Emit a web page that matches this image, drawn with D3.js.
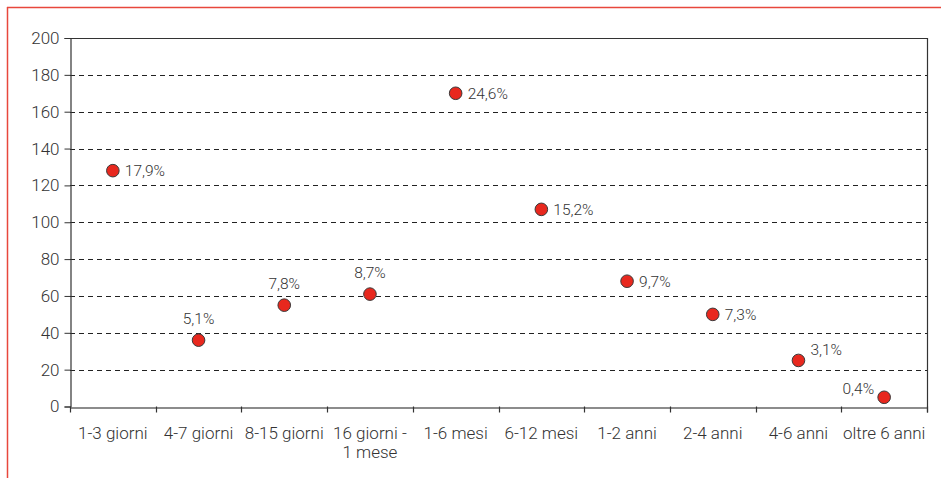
<!DOCTYPE html>
<html>
<head>
<meta charset="utf-8">
<script src="https://cdn.jsdelivr.net/npm/d3@7"></script>
<style>
  html, body { margin: 0; padding: 0; background: #fff; }
  svg { display: block; font-family: Roboto, "Noto Sans", sans-serif; font-weight: 300; }
</style>
</head>
<body>
<svg id="chart" width="941" height="478"></svg>
<script>
// Duration classes (x axis)
const categories = ["1-3 giorni", "4-7 giorni", "8-15 giorni", "16 giorni -\n1 mese", "1-6 mesi",
                    "6-12 mesi", "1-2 anni", "2-4 anni", "4-6 anni", "oltre 6 anni"];
// Counts per class
const counts = [128, 36, 55, 61, 170, 107, 68, 50, 25, 5];
// Share of total shown next to each point
const shares = ["17,9%", "5,1%", "7,8%", "8,7%", "24,6%", "15,2%", "9,7%", "7,3%", "3,1%", "0,4%"];
// Where each share label sits relative to its point
const labelSide = ["right", "top", "top", "top", "right", "right", "right", "right", "topright", "topleft"];
// Y axis ticks
const yTicks = [0, 20, 40, 60, 80, 100, 120, 140, 160, 180, 200];

const svg = d3.select("#chart");
const W = 941, H = 478;
const m = { left: 70, right: 927, top: 38, bottom: 406.5 };
const ink = "#333";
const font = "Roboto, 'Noto Sans', sans-serif";

// Red outer frame (top and left edges)
svg.append("line").attr("x1", 7).attr("x2", W).attr("y1", 7.5).attr("y2", 7.5)
  .attr("stroke", "#e8473c").attr("stroke-width", 1.5);
svg.append("line").attr("x1", 7.5).attr("x2", 7.5).attr("y1", 7).attr("y2", H)
  .attr("stroke", "#e8473c").attr("stroke-width", 1.5);

const x = d3.scaleBand().domain(categories).range([m.left, m.right]).padding(0);
const y = d3.scaleLinear().domain([0, 200]).range([m.bottom, m.top]);

// Dashed gridlines
svg.append("g").selectAll("line")
  .data(yTicks.filter(d => d > 0 && d < 200))
  .join("line")
  .attr("x1", m.left).attr("x2", m.right)
  .attr("y1", d => Math.round(y(d)) + 0.5).attr("y2", d => Math.round(y(d)) + 0.5)
  .attr("stroke", "#222").attr("stroke-width", 1).attr("stroke-dasharray", "5,4");

// Plot frame: top and right edges
svg.append("line").attr("x1", m.left).attr("x2", m.right + 0.5)
  .attr("y1", Math.round(m.top) + 0.5).attr("y2", Math.round(m.top) + 0.5)
  .attr("stroke", ink).attr("stroke-width", 1.2);
svg.append("line").attr("x1", m.right + 0.5).attr("x2", m.right + 0.5)
  .attr("y1", m.top).attr("y2", m.bottom + 6)
  .attr("stroke", ink).attr("stroke-width", 1.2);

// Y axis
const yAxis = svg.append("g")
  .attr("transform", `translate(${m.left + 0.5},0)`)
  .call(d3.axisLeft(y).tickValues(yTicks).tickSize(6).tickPadding(5).tickFormat(d3.format("d")));
yAxis.select(".domain").attr("stroke", ink).attr("stroke-width", 1.2);
yAxis.selectAll(".tick line").attr("stroke", ink);
yAxis.selectAll(".tick text").attr("fill", ink).attr("font-size", 17)
  .attr("font-family", font).attr("font-weight", 300);

// X axis with ticks at class boundaries
const xAxis = svg.append("g")
  .attr("transform", `translate(0,${Math.round(m.bottom) + 0.5})`)
  .call(d3.axisBottom(x).tickSize(0).tickFormat(""));
xAxis.select(".domain").attr("stroke", "#666").attr("stroke-width", 1.5);
xAxis.selectAll(".tick").remove();

const bounds = categories.map(c => x(c)).concat([m.right]);
svg.append("g").selectAll("line").data(bounds).join("line")
  .attr("x1", d => Math.round(d) + 0.5).attr("x2", d => Math.round(d) + 0.5)
  .attr("y1", m.bottom).attr("y2", m.bottom + 6)
  .attr("stroke", ink).attr("stroke-width", 1.2);

// Category labels (may wrap on two lines)
const xl = svg.append("g").selectAll("text").data(categories).join("text")
  .attr("x", d => x(d) + x.bandwidth() / 2)
  .attr("y", 439)
  .attr("text-anchor", "middle")
  .attr("fill", ink).attr("font-size", 17);
xl.each(function (d) {
  const t = d3.select(this);
  d.split("\n").forEach((line, i) => {
    t.append("tspan").attr("x", x(d) + x.bandwidth() / 2).attr("dy", i === 0 ? 0 : 19).text(line);
  });
});

// Points
const cx = i => x(categories[i]) + x.bandwidth() / 2;
svg.append("g").selectAll("circle").data(counts).join("circle")
  .attr("cx", (d, i) => cx(i))
  .attr("cy", d => y(d))
  .attr("r", 6.3)
  .attr("fill", "#e8281e")
  .attr("stroke", "#3a3a3a").attr("stroke-width", 1);

// Share labels
const offsets = {
  right:    { dx: 12,  dy: 5.5, anchor: "start" },
  top:      { dx: 0,   dy: -16, anchor: "middle" },
  topright: { dx: 12,  dy: -5,  anchor: "start" },
  topleft:  { dx: -10, dy: -3,  anchor: "end" }
};
svg.append("g").selectAll("text").data(counts).join("text")
  .attr("x", (d, i) => cx(i) + offsets[labelSide[i]].dx)
  .attr("y", (d, i) => y(d) + offsets[labelSide[i]].dy)
  .attr("text-anchor", (d, i) => offsets[labelSide[i]].anchor)
  .attr("fill", ink).attr("font-size", 15.5)
  .text((d, i) => shares[i]);
</script>
</body>
</html>
